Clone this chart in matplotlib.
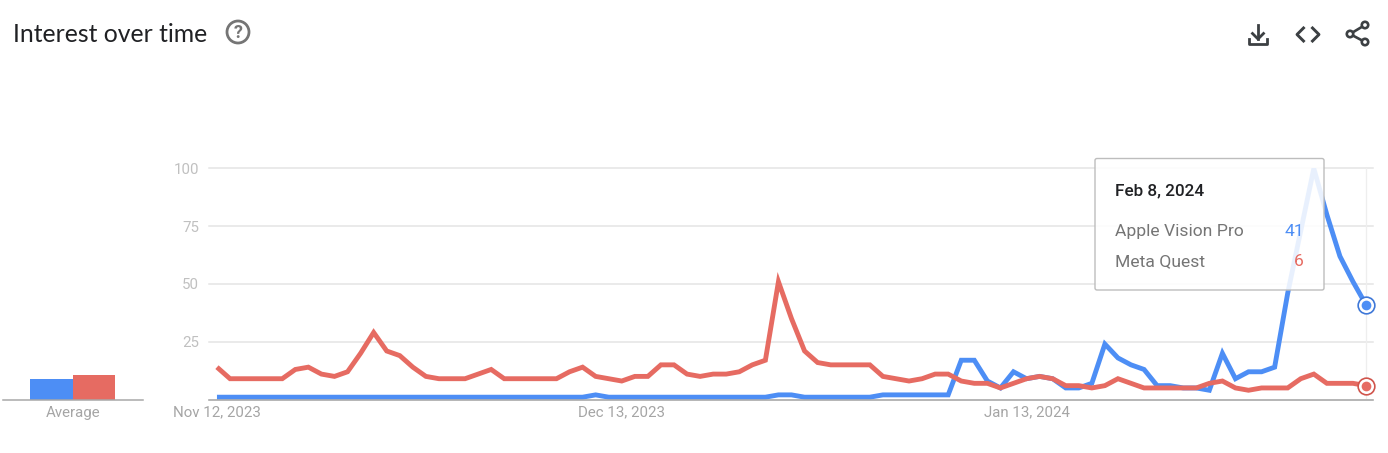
import matplotlib
matplotlib.use("Agg")
import matplotlib.pyplot as plt
import pandas as pd
from matplotlib.patches import Circle, FancyBboxPatch

W, H = 1388, 453

plt.rcParams["font.family"] = ["Roboto", "DejaVu Sans"]

# values, one per day from Nov 12, 2023 to Feb 8, 2024
apple_vision_pro = [1] * 29 + [2] + [1] * 13 + [2, 2] + [1] * 6 + [2] * 6 + [
    17, 17, 8, 5, 12, 9, 10, 9, 5, 5, 7, 24, 18, 15, 13, 6, 6, 5, 5, 4, 20, 9,
    12, 12, 14, 46, 73, 100, 80, 62, 51, 41]
meta_quest = [
    14, 9, 9, 9, 9, 9, 13, 14, 11, 10, 12, 20, 29, 21, 19, 14, 10, 9, 9, 9,
    11, 13, 9, 9, 9, 9, 9, 12, 14, 10, 9, 8, 10, 10, 15, 15, 11, 10, 11, 11,
    12, 15, 17, 51, 35, 21, 16, 15, 15, 15, 15, 10, 9, 8, 9, 11, 11, 8, 7, 7,
    5, 7, 9, 10, 9, 6, 6, 5, 6, 9, 7, 5, 5, 5, 5, 5, 7, 8, 5, 4, 5, 5, 5, 9,
    11, 7, 7, 7, 6]
dates = pd.date_range("2023-11-12", periods=len(meta_quest))

y_ticks = [0, 25, 50, 75, 100]
y_tick_labels = ["", "25", "50", "75", "100"]
x_ticks = ["2023-11-12", "2023-12-13", "2024-01-13"]
x_tick_labels = ["Nov 12, 2023", "Dec 13, 2023", "Jan 13, 2024"]
average_names = ["Apple Vision Pro", "Meta Quest"]
average_values = [9, 10.5]

BLUE = "#4d8ef5"
RED = "#e66b62"
GRID = "#e4e4e4"
AXIS = "#a8a8a8"
LABEL = "#a5a5a5"
DARK = "#3c4043"


def px_axes(left, top, right, bottom):
    return fig.add_axes([left / W, 1 - bottom / H, (right - left) / W, (bottom - top) / H])


fig = plt.figure(figsize=(W / 100, H / 100), dpi=100)

# main chart
ax = px_axes(209, 168.5, 1372.7, 399.5)
ax.plot(dates, apple_vision_pro, color=BLUE, lw=3.5, solid_joinstyle="miter",
        solid_capstyle="butt", zorder=3)
ax.plot(dates, meta_quest, color=RED, lw=3.5, solid_joinstyle="miter",
        solid_capstyle="butt", zorder=4)
ax.axvline(dates[-1], color="#eeeeee", lw=0.9, zorder=1)
ax.set_xlim(dates[0] - pd.Timedelta(days=0.61), dates[-1] + pd.Timedelta(days=0.51))
ax.set_ylim(0, 100)
ax.set_yticks(y_ticks, y_tick_labels)
ax.set_xticks(pd.to_datetime(x_ticks), x_tick_labels)
ax.grid(axis="y", color=GRID, lw=1.1)
for g in ax.get_ygridlines():
    g.set_clip_on(False)
ax.set_axisbelow(True)
ax.tick_params(axis="both", length=0, labelsize=10.8)
ax.tick_params(axis="y", labelcolor="#c0c0c0", pad=7)
ax.tick_params(axis="x", labelcolor=LABEL, pad=4.5)
for s in ["top", "left", "right"]:
    ax.spines[s].set_visible(False)
ax.spines["bottom"].set_color(AXIS)
ax.spines["bottom"].set_linewidth(1.1)
ax.spines["bottom"].set_zorder(5)

# average bars
ax2 = px_axes(3, 168.5, 143, 399.5)
ax2.bar([0, 1], average_values, width=1, color=[BLUE, RED])
ax2.set_xlim(-1.13, 2.145)
ax2.set_ylim(0, 100)
ax2.set_yticks([])
ax2.set_xticks([0.5], ["Average"])
ax2.tick_params(axis="x", length=0, labelsize=10.8, labelcolor=LABEL, pad=4.5)
for s in ["top", "left", "right"]:
    ax2.spines[s].set_visible(False)
ax2.spines["bottom"].set_color(AXIS)
ax2.spines["bottom"].set_linewidth(1.1)
ax2.patch.set_alpha(0)

# overlay in pixel coordinates: title, icons, tooltip
ov = fig.add_axes([0, 0, 1, 1], zorder=10)
ov.set_xlim(0, W)
ov.set_ylim(H, 0)
ov.axis("off")

ov.text(13, 34.5, "Interest over time", fontsize=17.8, family=["Lato", "DejaVu Sans"],
        color="#202124", va="center")
ov.add_patch(Circle((238, 32), 11, fc="none", ec="#757575", lw=2))
ov.text(238, 32.5, "?", fontsize=13, color="#757575", weight="bold", ha="center", va="center")

# download icon
ov.plot([1258, 1258], [25, 39], color=DARK, lw=2)
ov.plot([1252.5, 1258, 1263.5], [33.5, 39, 33.5], color=DARK, lw=2)
ov.plot([1249, 1249, 1267, 1267], [39, 43.5, 43.5, 39], color=DARK, lw=2)
# embed icon
ov.plot([1303.5, 1297, 1303.5], [28, 34.5, 41], color=DARK, lw=2.1)
ov.plot([1312.5, 1319, 1312.5], [28, 34.5, 41], color=DARK, lw=2.1)
# share icon
ov.plot([1365, 1350, 1365], [25, 34, 42], color=DARK, lw=1.9)
for cx, cy in [(1365, 25), (1350, 34), (1365, 42)]:
    ov.add_patch(Circle((cx, cy), 3.2, fc="white", ec=DARK, lw=1.9, zorder=3))

# tooltip
ov.add_patch(FancyBboxPatch((1095, 158.5), 229, 131.5, boxstyle="round,pad=0,rounding_size=2",
                            fc=(1, 1, 1, 0.88), ec="#bdbdbd", lw=1))
ov.text(1115, 190.5, "Feb 8, 2024", fontsize=12.3, color="#202124", weight="medium", va="center")
ov.text(1115, 231.5, average_names[0], fontsize=12.6, color="#757575", va="center")
ov.text(1115, 261.5, average_names[1], fontsize=12.6, color="#757575", va="center")
ov.text(1304, 231.5, str(apple_vision_pro[-1]), fontsize=12.6, color=BLUE, ha="right", va="center")
ov.text(1304, 261.5, str(meta_quest[-1]), fontsize=12.6, color=RED, ha="right", va="center")

# end markers on the main axes
for vals, ring, dot in [(apple_vision_pro, "#3f78d8", BLUE), (meta_quest, "#d0554c", RED)]:
    ax.plot(dates[-1], vals[-1], "o", ms=12, mfc="white", mec=ring, mew=1.2, clip_on=False, zorder=6)
    ax.plot(dates[-1], vals[-1], "o", ms=7, mfc=dot, mec="none", clip_on=False, zorder=7)

fig.savefig("out.png", dpi=100)
